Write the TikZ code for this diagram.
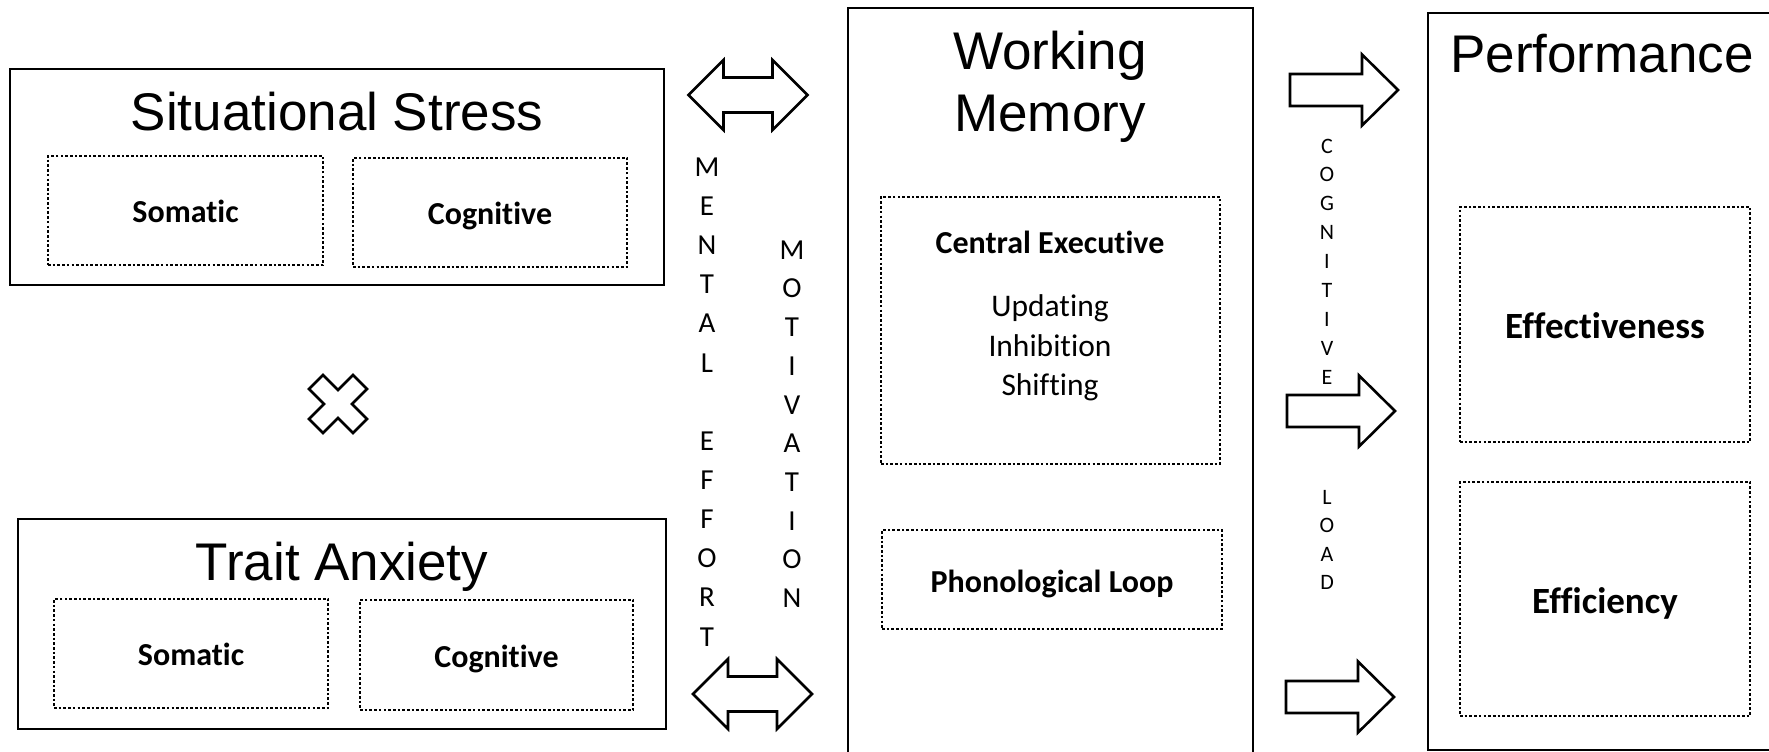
\documentclass[tikz,border=0pt]{standalone}
\usepackage{fontspec}
\setmainfont{Carlito}[Ligatures=CommonOff]
\newfontfamily\titlefont{Liberation Sans}
\usetikzlibrary{fit}

\tikzset{
  outerbox/.style={draw=black, line width=1.8pt, inner sep=0pt},
  dotbox/.style={draw=black, line width=2.9pt, dash pattern=on 2.6pt off 2.1pt, inner sep=0pt},
  title/.style={font=\titlefont\fontsize{53}{61}\selectfont, anchor=base, inner sep=0pt},
  boldlabel/.style={font=\fontsize{32}{38}\selectfont\bfseries, inner sep=0pt},
  biglabel/.style={font=\fontsize{37}{43}\selectfont\bfseries, inner sep=0pt},
  plainline/.style={font=\fontsize{31.5}{37}\selectfont, anchor=base, inner sep=0pt},
  bigletter/.style={font=\fontsize{29}{29}\selectfont, inner sep=0pt, text height=18.5pt, text depth=0pt},
  smallletter/.style={font=\fontsize{22}{22}\selectfont, inner sep=0pt, text height=14pt, text depth=0pt},
  blockarrow/.style={draw=black, fill=white, line width=2.6pt, line join=miter},
  pics/rightarrow/.style={code={
    \draw[blockarrow] (-54,-16) -- (18,-16) -- (18,-35.5) -- (54,0) -- (18,35.5) -- (18,16) -- (-54,16) -- cycle;
  }},
  pics/botharrow/.style={code={
    \draw[blockarrow] (-59.5,0) -- (-24.5,-35) -- (-24.5,-17.5) -- (24.5,-17.5) -- (24.5,-35) -- (59.5,0)
      -- (24.5,35) -- (24.5,17.5) -- (-24.5,17.5) -- (-24.5,35) -- cycle;
  }},
  pics/cross/.style={code={
    \draw[blockarrow] (0,-14) -- (15,-29) -- (29,-15) -- (14,0) -- (29,15) -- (15,29) -- (0,14)
      -- (-15,29) -- (-29,15) -- (-14,0) -- (-29,-15) -- (-15,-29) -- cycle;
  }}
}

\begin{document}
\begin{tikzpicture}[x=1pt, y=-1pt]
\useasboundingbox (0,0) rectangle (1769,752);
\clip (0,0) rectangle (1769,752);

% ---- Situational stress ----
\node[outerbox, fit={(10,69) (664,285)}] (ss) {};
\node[title] (sstitle) at (337,130) {Situational Stress};
\node[dotbox, fit={(48,156) (323,265)}] (sssom) {};
\node[dotbox, fit={(353,158) (627,267)}] (sscog) {};
\node[boldlabel] at ([yshift=-1]sssom.center) {Somatic};
\node[boldlabel] at ([yshift=-3.5]sscog.center) {Cognitive};

% ---- Interaction sign ----
\pic at (338,404) {cross};

% ---- Trait anxiety ----
\node[outerbox, fit={(18,519) (666,729)}] (ta) {};
\node[title] (tatitle) at (342,580) {Trait Anxiety};
\node[dotbox, fit={(54,599) (328,708)}] (tasom) {};
\node[dotbox, fit={(360,600) (633,710)}] (tacog) {};
\node[boldlabel] at ([yshift=-1]tasom.center) {Somatic};
\node[boldlabel] at ([yshift=-3.5]tacog.center) {Cognitive};

% ---- Two-way arrows with effort and motivation ----
\pic at (748,95) {botharrow};
\pic at (752.5,694) {botharrow};
\foreach \ch [count=\i from 0] in {M,E,N,T,A,L,{},E,F,F,O,R,T}
  \node[bigletter] (effort\i) at (707,167+39.15*\i) {\ch};
\foreach \ch [count=\i from 0] in {M,O,T,I,V,A,T,I,O,N}
  \node[bigletter] (motiv\i) at (792,250+38.7*\i) {\ch};

% ---- Working memory ----
\node[outerbox, fit={(848,8) (1253,780)}] (wm) {};
\node[title] (wm1) at (1050,70) {Working};
\node[title] (wm2) at (1050,131) {Memory};
\node[dotbox, fit={(881,197) (1220,464)}] (ce) {};
\node[boldlabel] (cetitle) at (1050,242) {Central Executive};
\node[plainline] (upd) at (1050,316) {Updating};
\node[plainline] (inh) at (1050,356) {Inhibition};
\node[plainline] (shi) at (1050,395) {Shifting};
\node[dotbox, fit={(882,530) (1222,629)}] (pl) {};
\node[boldlabel] at ([yshift=-4.5]pl.center) {Phonological Loop};

% ---- Arrows towards performance, cognitive load ----
\pic at (1344,90) {rightarrow};
\pic at (1341,411) {rightarrow};
\pic at (1340,697) {rightarrow};
\foreach \ch [count=\i from 0] in {C,O,G,N,I,T,I,V,E}
  \node[smallletter] (cog\i) at (1327,146+28.9*\i) {\ch};
\foreach \ch [count=\i from 0] in {L,O,A,D}
  \node[smallletter] (load\i) at (1327,497+28.5*\i) {\ch};

% ---- Performance ----
\node[outerbox, fit={(1428,13) (1790,750)}] (perf) {};
\node[title] (perftitle) at (1602,73) {Performance};
\node[dotbox, fit={(1460,207) (1750,442)}] (eff) {};
\node[dotbox, fit={(1460,482) (1750,716)}] (effi) {};
\node[biglabel] at ([yshift=-1]eff.center) {Effectiveness};
\node[biglabel] at ([yshift=-4.5]effi.center) {Efficiency};
\end{tikzpicture}
\end{document}
